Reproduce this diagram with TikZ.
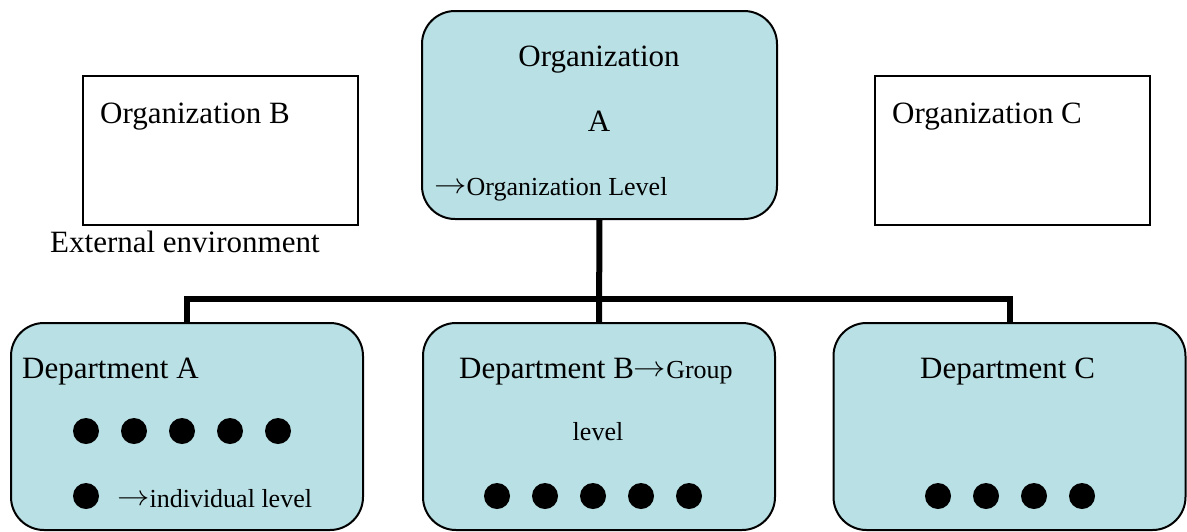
\documentclass[tikz,border=0pt]{standalone}
\usepackage{fontspec}
\setmainfont{Liberation Serif}
\usetikzlibrary{backgrounds}
\definecolor{unitfill}{RGB}{185,224,228}
\newcommand{\bigfont}{\fontsize{31}{36}\selectfont}
\newcommand{\smallfont}{\fontsize{26}{30}\selectfont}
\newcommand{\toarrow}{{\fontsize{24.88}{30}\selectfont\raisebox{2pt}{\scalebox{1.3}[1.15]{$\rightarrow$}}}}
\tikzset{
  unitbox/.style={draw=black, line width=2pt, fill=unitfill, rounded corners=33pt,
    inner sep=0pt, outer sep=0pt},
  outerbox/.style={draw=black, line width=1.6pt, fill=white, inner sep=0pt, outer sep=0pt},
  conn/.style={draw=black, line width=6pt, line cap=rect},
  lbl/.style={anchor=base west, inner sep=0pt, font=\bigfont},
  lblc/.style={anchor=base, inner sep=0pt, font=\bigfont},
  dot/.style={fill=black}
}
\begin{document}
\begin{tikzpicture}[x=1pt, y=-1pt]
\useasboundingbox (0,0) rectangle (1187,531);

% organisations
\node[unitbox, minimum width=355pt, minimum height=208pt] (orgA) at (599.5,115) {};
\node[outerbox, minimum width=275pt, minimum height=149pt] (orgB) at (220.5,150.5) {};
\node[outerbox, minimum width=275pt, minimum height=149pt] (orgC) at (1012.5,150.5) {};

% departments
\node[unitbox, minimum width=352pt, minimum height=207pt] (deptA) at (187,426.5) {};
\node[unitbox, minimum width=352pt, minimum height=207pt] (deptB) at (599,426.5) {};
\node[unitbox, minimum width=352pt, minimum height=207pt] (deptC) at (1009.5,426.5) {};

% hierarchy connectors
\coordinate (bus) at (599,299);
\begin{scope}[on background layer]
  \draw[conn] (orgA.south) -- (deptB.north);
  \draw[conn, line cap=butt] (deptA.north) -- (deptA.north |- bus) -- (deptC.north |- bus) -- (deptC.north);
\end{scope}

% labels in the organisations
\node[lblc] (tOrgA1) at (599,66) {Organization};
\node[lblc] (tOrgA2) at (599,131) {A};
\node[lbl, font=\smallfont] (tOrgLvl) at (434,195) {\toarrow Organization Level};
\node[lbl] (tOrgB) at (100,123) {Organization B};
\node[lbl] (tOrgC) at (892,123) {Organization C};
\node[lbl] (tEnv) at (50,252) {External environment};

% labels in the departments
\node[lbl] (tDeptA) at (22,378) {Department A};
\node[lbl] (tDeptB) at (459,378) {Department B\toarrow{\smallfont Group}};
\node[lblc, font=\smallfont] (tGroup) at (598,440) {level};
\node[lbl] (tDeptC) at (920,378) {Department C};
\node[lbl, font=\smallfont] (tIndiv) at (117,507) {\toarrow individual level};

% members
\foreach \x in {86,134,182,230,278} \fill[dot] (\x,431) circle (13);
\fill[dot] (86,496) circle (13);
\foreach \x in {497,545,593,641,689} \fill[dot] (\x,496) circle (13);
\foreach \x in {938,986,1034,1082} \fill[dot] (\x,496) circle (13);
\end{tikzpicture}
\end{document}
